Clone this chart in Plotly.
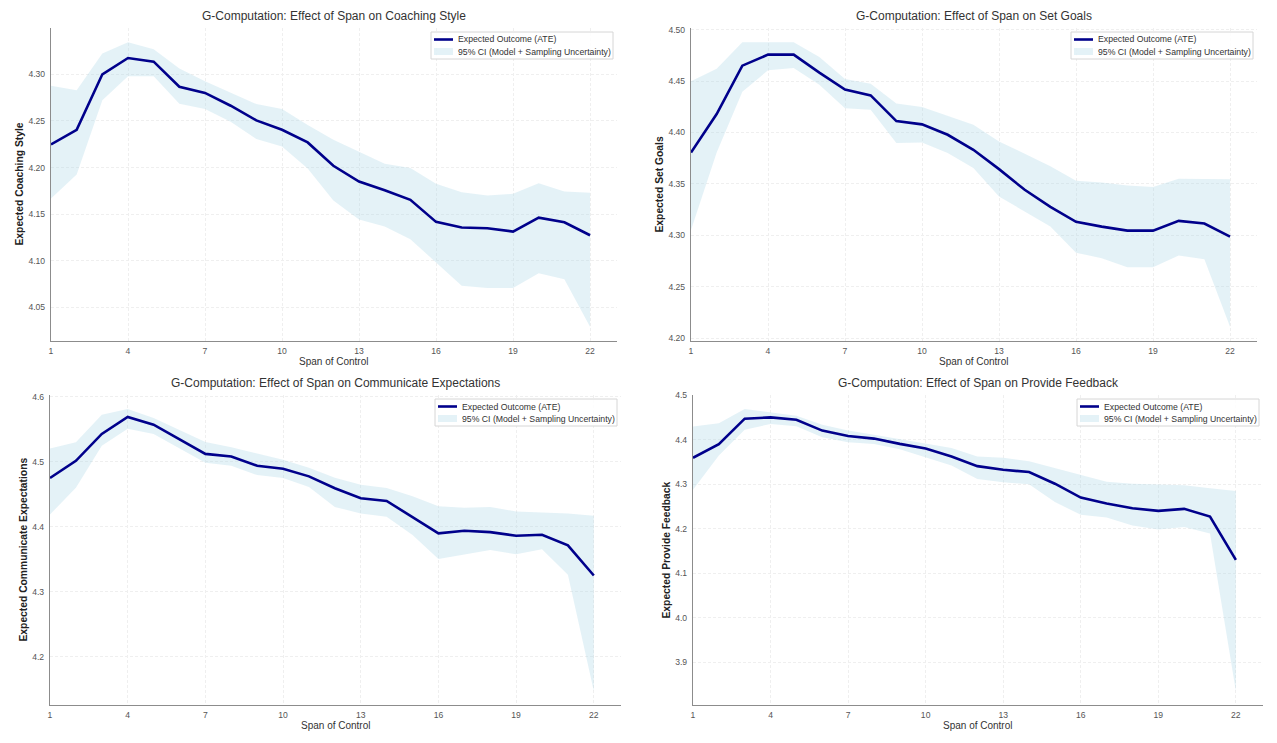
import plotly.graph_objects as go

span = list(range(1, 23))
x_ticks = [1, 4, 7, 10, 13, 16, 19, 22]

# Coaching Style
coach_ate = [4.2248, 4.2405, 4.3000, 4.3175, 4.3136, 4.2867, 4.2800, 4.2663, 4.2506, 4.2405, 4.2269,
             4.2019, 4.1850, 4.1757, 4.1653, 4.1417, 4.1356, 4.1349, 4.1313, 4.1463, 4.1413, 4.1274]
coach_hi = [4.2878, 4.2828, 4.3222, 4.3344, 4.3269, 4.3061, 4.2925, 4.2807, 4.2681, 4.2628, 4.2456,
            4.2298, 4.2173, 4.2040, 4.1994, 4.1825, 4.1736, 4.1700, 4.1718, 4.1832, 4.1743, 4.1729]
coach_lo = [4.1668, 4.1925, 4.2721, 4.2979, 4.2979, 4.2685, 4.2628, 4.2491, 4.2305, 4.2226, 4.1990,
            4.1646, 4.1442, 4.1367, 4.1231, 4.0987, 4.0733, 4.0708, 4.0708, 4.0865, 4.0801, 4.0292]

# Set Goals
goals_ate = [4.3805, 4.4179, 4.4649, 4.4756, 4.4756, 4.4581, 4.4416, 4.4360, 4.4110, 4.4078, 4.3977,
             4.3831, 4.3643, 4.3442, 4.3276, 4.3130, 4.3084, 4.3045, 4.3045, 4.3140, 4.3114, 4.2987]
goals_hi = [4.4497, 4.4620, 4.4877, 4.4877, 4.4877, 4.4734, 4.4519, 4.4474, 4.4282, 4.4247, 4.4162,
            4.4075, 4.3912, 4.3795, 4.3672, 4.3529, 4.3513, 4.3484, 4.3468, 4.3549, 4.3545, 4.3545]
goals_lo = [4.3052, 4.3805, 4.4396, 4.4604, 4.4627, 4.4464, 4.4234, 4.4221, 4.3896, 4.3903, 4.3799,
            4.3653, 4.3377, 4.3231, 4.3084, 4.2831, 4.2776, 4.2688, 4.2688, 4.2802, 4.2766, 4.2110]

# Communicate Expectations
comm_ate = [4.4750, 4.5015, 4.5429, 4.5689, 4.5571, 4.5352, 4.5122, 4.5082, 4.4939, 4.4893, 4.4776,
            4.4592, 4.4439, 4.4398, 4.4153, 4.3898, 4.3939, 4.3918, 4.3862, 4.3878, 4.3714, 4.3250]
comm_hi = [4.5204, 4.5301, 4.5724, 4.5811, 4.5673, 4.5490, 4.5306, 4.5224, 4.5122, 4.5031, 4.4908,
           4.4755, 4.4648, 4.4597, 4.4469, 4.4316, 4.4291, 4.4306, 4.4235, 4.4214, 4.4204, 4.4168]
comm_lo = [4.4189, 4.4602, 4.5245, 4.5510, 4.5429, 4.5204, 4.4985, 4.4939, 4.4796, 4.4750, 4.4612,
           4.4306, 4.4204, 4.4153, 4.3872, 4.3505, 4.3577, 4.3643, 4.3577, 4.3653, 4.3260, 4.1474]

# Provide Feedback
fb_ate = [4.3599, 4.3904, 4.4478, 4.4508, 4.4456, 4.4210, 4.4091, 4.4031, 4.3912, 4.3807, 4.3629,
          4.3412, 4.3330, 4.3278, 4.3017, 4.2704, 4.2570, 4.2466, 4.2406, 4.2451, 4.2280, 4.1303]
fb_hi = [4.4300, 4.4374, 4.4694, 4.4627, 4.4545, 4.4344, 4.4210, 4.4120, 4.4024, 4.3912, 4.3822,
         4.3629, 4.3599, 4.3524, 4.3368, 4.3204, 4.3062, 4.3017, 4.2995, 4.2980, 4.2913, 4.2853]
fb_lo = [4.2883, 4.3651, 4.4232, 4.4359, 4.4307, 4.4061, 4.3949, 4.3912, 4.3793, 4.3614, 4.3427,
         4.3122, 4.3047, 4.3003, 4.2607, 4.2317, 4.2257, 4.2078, 4.1989, 4.2041, 4.1899, 3.8359]

outcomes = ["Coaching Style", "Set Goals", "Communicate Expectations", "Provide Feedback"]
ates = [coach_ate, goals_ate, comm_ate, fb_ate]
his = [coach_hi, goals_hi, comm_hi, fb_hi]
los = [coach_lo, goals_lo, comm_lo, fb_lo]
y_ticks = [
    [4.05, 4.10, 4.15, 4.20, 4.25, 4.30],
    [4.20, 4.25, 4.30, 4.35, 4.40, 4.45, 4.50],
    [4.2, 4.3, 4.4, 4.5, 4.6],
    [3.9, 4.0, 4.1, 4.2, 4.3, 4.4, 4.5],
]
y_fmt = [".2f", ".2f", ".1f", ".1f"]
legend_labels = ["Expected Outcome (ATE)", "95% CI (Model + Sampling Uncertainty)"]

# page body has an 8px margin, so the figure is drawn 8px smaller and shifted
OFF = 8
W, H = 1277 - OFF, 743 - OFF
# pixel boxes of each axes in the screenshot (left, right, top, bottom)
boxes = [(51, 617, 28, 341), (691, 1257, 28, 341), (50, 621, 395, 705), (693, 1263, 395, 705)]
ylab_gap = [32, 32, 27.5, 27.5]

LINE = "#00008b"
FILL = "rgba(173,216,230,0.33)"
FONT = "Liberation Sans, Arial, sans-serif"


def px(x):
    return (x - OFF) / W


def py(y):
    return 1 - (y - OFF) / H


fig = go.Figure()
layout = dict(
    width=W, height=H,
    margin=dict(l=0, r=0, t=0, b=0, autoexpand=False),
    paper_bgcolor="white", plot_bgcolor="white",
    font=dict(family=FONT, color="#333"),
    showlegend=False,
)
annotations = []
shapes = []
for i in range(4):
    n = "" if i == 0 else str(i + 1)
    xa, ya = "x" + n, "y" + n
    ate, hi, lo = ates[i], his[i], los[i]
    fig.add_trace(go.Scatter(x=span, y=lo, mode="lines", line=dict(width=0, color=FILL),
                             showlegend=False, hoverinfo="skip", xaxis=xa, yaxis=ya))
    fig.add_trace(go.Scatter(x=span, y=hi, mode="lines", line=dict(width=0, color=FILL),
                             fill="tonexty", fillcolor=FILL, name=legend_labels[1],
                             xaxis=xa, yaxis=ya))
    fig.add_trace(go.Scatter(x=span, y=ate, mode="lines", line=dict(width=2.6, color=LINE),
                             name=legend_labels[0], xaxis=xa, yaxis=ya))

    l, r, t, b = boxes[i]
    dx = [px(l), px(r)]
    dy = [py(b), py(t)]
    lo_all = min(lo + ate)
    hi_all = max(hi + ate)
    pad = (hi_all - lo_all) * 0.05
    axis_common = dict(
        showline=True, linecolor="#8c8c8c", linewidth=1.3, mirror=False, automargin=False,
        showgrid=True, gridcolor="#efefef", griddash="3px,2px", gridwidth=0.8,
        zeroline=False, ticks="", tickfont=dict(size=8.6, color="#555", family=FONT),
    )
    layout["xaxis" + n] = dict(
        axis_common, domain=dx, anchor=ya, range=[1, 23.05], tickmode="array", tickvals=x_ticks,
        ticktext=[str(v) for v in x_ticks], ticklabelstandoff=2,
    )
    layout["yaxis" + n] = dict(
        axis_common, domain=dy, anchor=xa, range=[lo_all - pad, hi_all + pad], tickmode="array",
        tickvals=y_ticks[i], tickformat=y_fmt[i], ticklabelstandoff=3,
    )
    # title
    annotations.append(dict(
        text="G-Computation: Effect of Span on " + outcomes[i], xref="paper", yref="paper",
        x=(dx[0] + dx[1]) / 2, y=py(t - 3), xanchor="center", yanchor="bottom", showarrow=False,
        font=dict(size=12, color="#333", family=FONT),
    ))
    # x axis title
    annotations.append(dict(
        text="Span of Control", xref="paper", yref="paper",
        x=(dx[0] + dx[1]) / 2, y=py(b + 20), xanchor="center", yanchor="middle", showarrow=False,
        font=dict(size=10, color="#333", family=FONT),
    ))
    # y axis title
    annotations.append(dict(
        text="<b>Expected " + outcomes[i] + "</b>", xref="paper", yref="paper", textangle=-90,
        x=px(l - ylab_gap[i]), y=(dy[0] + dy[1]) / 2, xanchor="center", yanchor="middle", showarrow=False,
        font=dict(size=10.3, color="#222", family=FONT),
    ))

    # legend box (upper right inside axes)
    lr = r - 4
    ll = lr - 182
    lt = t + 4
    lb = lt + 27
    shapes.append(dict(type="rect", xref="paper", yref="paper", x0=px(ll), x1=px(lr), y0=py(lb), y1=py(lt),
                       line=dict(color="#d6d6d6", width=1), fillcolor="rgba(255,255,255,0.85)", layer="above"))
    row1 = lt + 7.5
    row2 = lt + 19.5
    shapes.append(dict(type="line", xref="paper", yref="paper", x0=px(ll + 3), x1=px(ll + 22),
                       y0=py(row1), y1=py(row1), line=dict(color=LINE, width=2.6), layer="above"))
    shapes.append(dict(type="rect", xref="paper", yref="paper", x0=px(ll + 3), x1=px(ll + 22),
                       y0=py(row2 + 3.5), y1=py(row2 - 3.5), line=dict(width=0), fillcolor=FILL, layer="above"))
    for lab, row in zip(legend_labels, [row1, row2]):
        annotations.append(dict(
            text=lab, xref="paper", yref="paper", x=px(ll + 25), y=py(row), xanchor="left", yanchor="middle",
            showarrow=False, font=dict(size=8.7, color="#333", family=FONT),
        ))

layout["annotations"] = annotations
layout["shapes"] = shapes
fig.update_layout(**layout)
fig.write_html("out.html")
